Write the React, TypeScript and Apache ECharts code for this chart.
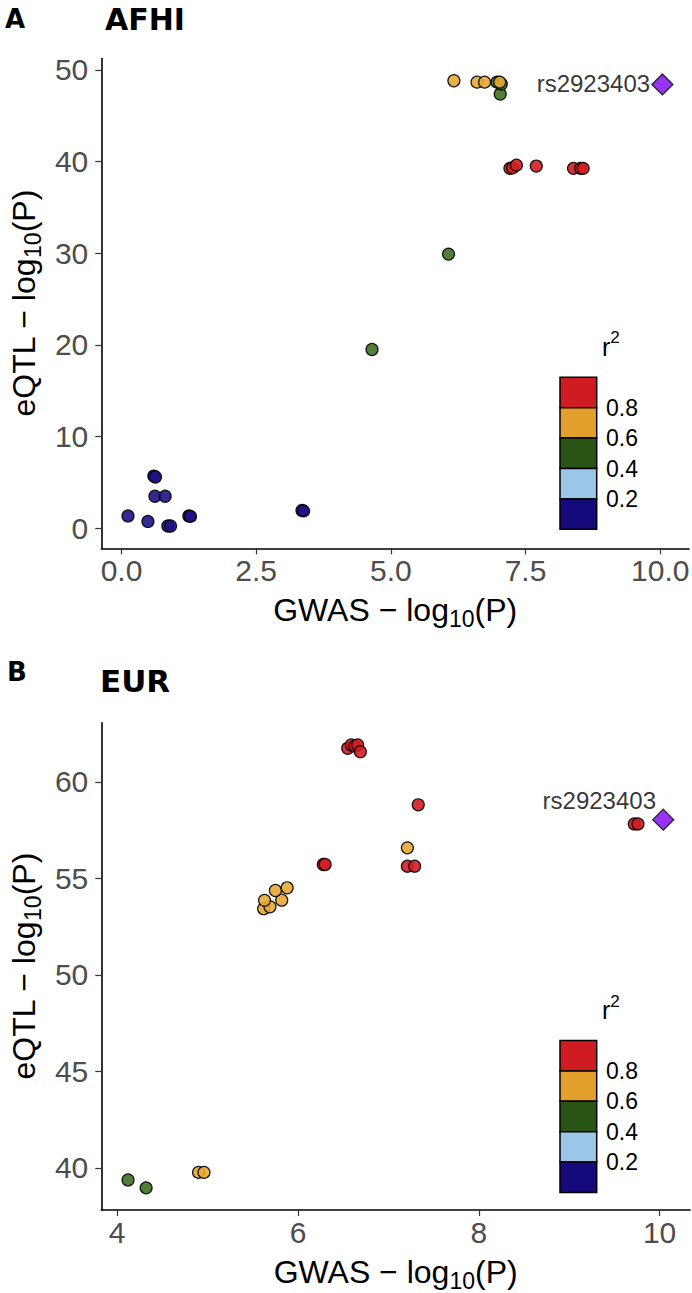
import React, { useEffect, useRef } from "react";
import * as echarts from "echarts";

// ---------- data ----------
const leadSnp = "rs2923403";
const r2Labels = ["0.8", "0.6", "0.4", "0.2"];

// AFHI panel: [GWAS -log10P, eQTL -log10P]
const afhiNavy = [
  [0.12, 1.35], [0.49, 0.75], [0.6, 5.7], [0.63, 5.6], [0.62, 3.5], [0.81, 3.5],
  [0.86, 0.25], [0.91, 0.25], [1.25, 1.35], [1.28, 1.3], [3.35, 1.95], [3.38, 1.9],
];
const afhiGreen = [[4.65, 19.5], [6.07, 29.9], [7.03, 47.35], [6.97, 48.65], [7.05, 48.45]];
const afhiOrange = [[6.17, 48.8], [6.6, 48.65], [6.74, 48.65], [7.02, 48.65]];
const afhiRed = [[7.21, 39.25], [7.26, 39.3], [7.33, 39.6], [7.7, 39.5], [8.39, 39.25], [8.52, 39.25], [8.57, 39.25]];
const afhiLead = [[10.04, 48.4]];
const afhiXTicks = [0, 2.5, 5, 7.5, 10];
const afhiYTicks = [0, 10, 20, 30, 40, 50];

// EUR panel
const eurGreen = [[4.12, 39.38], [4.32, 38.97]];
const eurOrange = [
  [4.9, 39.77], [4.96, 39.77], [5.62, 53.43], [5.69, 53.53], [5.63, 53.86],
  [5.82, 53.87], [5.75, 54.37], [5.88, 54.51], [7.21, 56.58],
];
const eurRed = [
  [6.28, 55.72], [6.3, 55.72], [6.55, 61.74], [6.59, 61.91], [6.63, 61.85], [6.66, 61.91],
  [6.69, 61.56], [7.21, 55.63], [7.29, 55.63], [7.33, 58.81], [9.72, 57.82], [9.76, 57.82],
];
const eurLead = [[10.04, 58.04]];
const eurXTicks = [4, 6, 8, 10];
const eurYTicks = [40, 45, 50, 55, 60];

// ---------- styles ----------
const FONT = "'Liberation Sans', Arial, Helvetica, sans-serif";
const legendColors = ["#CE1C22", "#E29F2B", "#2A5416", "#9AC6E8", "#150A7B"];
const pointColors = { red: "#D21E22", orange: "#E8A935", green: "#3F7022", navy: "#1C1285", lead: "#8000F0" };

function expand(vals: number[]) {
  const mn = Math.min(...vals);
  const mx = Math.max(...vals);
  const e = (mx - mn) * 0.05;
  return [mn - e, mx + e];
}

const nameRich = {
  n: { fontSize: 32, lineHeight: 40, color: "#000", fontFamily: FONT, verticalAlign: "middle" },
  s: { fontSize: 23, lineHeight: 23, color: "#000", fontFamily: FONT, verticalAlign: "bottom" },
};

function axisPair(idx: number, xTicks: number[], yTicks: number[], pts: number[][], xFmt: (v: number) => string) {
  const [xmin, xmax] = expand(pts.map((p) => p[0]));
  const [ymin, ymax] = expand(pts.map((p) => p[1]));
  const common = {
    axisLine: { show: true, onZero: false, lineStyle: { color: "#000", width: 1.6 } },
    splitLine: { show: false },
  };
  const xAxis = {
    type: "value",
    gridIndex: idx,
    min: xmin,
    max: xmax,
    ...common,
    axisTick: { show: true, length: 6, customValues: xTicks, lineStyle: { color: "#333", width: 1.2 } },
    axisLabel: { customValues: xTicks, formatter: xFmt, fontSize: 30, color: "#4D4D4D", fontFamily: FONT, margin: 7 },
    name: "{n|GWAS − log}{s|10}{n|(P)}",
    nameLocation: "middle",
    nameGap: 42,
    nameTextStyle: { rich: nameRich },
  };
  const yAxis = {
    type: "value",
    gridIndex: idx,
    min: ymin,
    max: ymax,
    ...common,
    axisTick: { show: true, length: 6, customValues: yTicks, lineStyle: { color: "#333", width: 1.2 } },
    axisLabel: { customValues: yTicks, fontSize: 30, color: "#4D4D4D", fontFamily: FONT, margin: 13 },
    name: "{n|eQTL − log}{s|10}{n|(P)}",
    nameLocation: "middle",
    nameGap: 53,
    nameTextStyle: { rich: nameRich },
  };
  return { xAxis, yAxis };
}

function pointSeries(idx: number, data: number[][], color: string, z: number) {
  return {
    type: "scatter",
    xAxisIndex: idx,
    yAxisIndex: idx,
    data,
    symbol: "circle",
    symbolSize: 12,
    z,
    silent: true,
    itemStyle: { color, opacity: 0.9, borderColor: "#000", borderWidth: 1.2 },
  };
}

function leadSeries(idx: number, data: number[][], labelPos: number[]) {
  return {
    type: "scatter",
    xAxisIndex: idx,
    yAxisIndex: idx,
    data,
    symbol: "diamond",
    symbolSize: 21,
    z: 10,
    silent: true,
    itemStyle: { color: pointColors.lead, borderColor: "#000", borderWidth: 1.3 },
    label: {
      show: true,
      formatter: leadSnp,
      position: labelPos,
      align: "right",
      verticalAlign: "middle",
      fontSize: 24,
      color: "#000",
      fontFamily: FONT,
    },
  };
}

function legend(axisBottom: number) {
  const boxBottom = axisBottom - 19;
  const h = 30.4;
  const boxTop = boxBottom - h * 5;
  const els: any[] = [];
  legendColors.forEach((c, i) => {
    els.push({
      type: "rect",
      shape: { x: 560, y: boxTop + i * h, width: 36.7, height: h },
      style: { fill: c, stroke: "#000", lineWidth: 1.5 },
    });
  });
  r2Labels.forEach((t, i) => {
    els.push({
      type: "text",
      style: { text: t, x: 606, y: boxTop + h * (i + 1), verticalAlign: "middle", fontSize: 23, fill: "#000", fontFamily: FONT },
    });
  });
  els.push({
    type: "text",
    style: {
      text: "{a|r}{b|2}",
      x: 602,
      y: boxTop - 33,
      verticalAlign: "middle",
      rich: {
        a: { fontSize: 25, lineHeight: 30, verticalAlign: "bottom", fill: "#000", fontFamily: FONT },
        b: { fontSize: 17, lineHeight: 17, verticalAlign: "top", fill: "#000", fontFamily: FONT },
      },
    },
  });
  return els;
}

function titleText(text: string, x: number, y: number, size: number) {
  return {
    type: "text",
    style: { text, x, y, verticalAlign: "middle", fontSize: size, fontWeight: "bold", fill: "#000", fontFamily: "'DejaVu Sans', sans-serif" },
  };
}

export default function App() {
  const ref = useRef<HTMLDivElement>(null);
  useEffect(() => {
    const chart = echarts.init(ref.current!, null, { renderer: "svg" });
    const afhiAll = [...afhiNavy, ...afhiGreen, ...afhiOrange, ...afhiRed, ...afhiLead];
    const eurAll = [...eurGreen, ...eurOrange, ...eurRed, ...eurLead];
    const a = axisPair(0, afhiXTicks, afhiYTicks, afhiAll, (v: number) => v.toFixed(1));
    const b = axisPair(1, eurXTicks, eurYTicks, eurAll, (v: number) => String(v));
    const gridA = { left: 93, top: 58.5, width: 597.5, height: 489.8 };
    const gridB = { left: 93, top: 722.8, width: 597, height: 488.7 };
    chart.setOption({
      animation: false,
      backgroundColor: "#fff",
      grid: [gridA, gridB],
      xAxis: [a.xAxis, b.xAxis],
      yAxis: [a.yAxis, b.yAxis],
      series: [
        pointSeries(0, afhiNavy, pointColors.navy, 2),
        pointSeries(0, afhiGreen, pointColors.green, 3),
        pointSeries(0, afhiOrange, pointColors.orange, 4),
        pointSeries(0, afhiRed, pointColors.red, 5),
        leadSeries(0, afhiLead, [-1.1, 10.5]),
        pointSeries(1, eurGreen, pointColors.green, 3),
        pointSeries(1, eurOrange, pointColors.orange, 4),
        pointSeries(1, eurRed, pointColors.red, 5),
        leadSeries(1, eurLead, [3.9, -7.8]),
      ],
      graphic: [
        titleText("A", 5, 19, 26),
        titleText("AFHI", 105, 19, 30),
        titleText("B", 7, 672, 26),
        titleText("EUR", 100, 681, 31),
        ...legend(gridA.top + gridA.height),
        ...legend(gridB.top + gridB.height),
      ],
    });
    return () => chart.dispose();
  }, []);
  return <div ref={ref} style={{ position: "absolute", left: 0, top: 0, width: 692, height: 1293 }} />;
}
